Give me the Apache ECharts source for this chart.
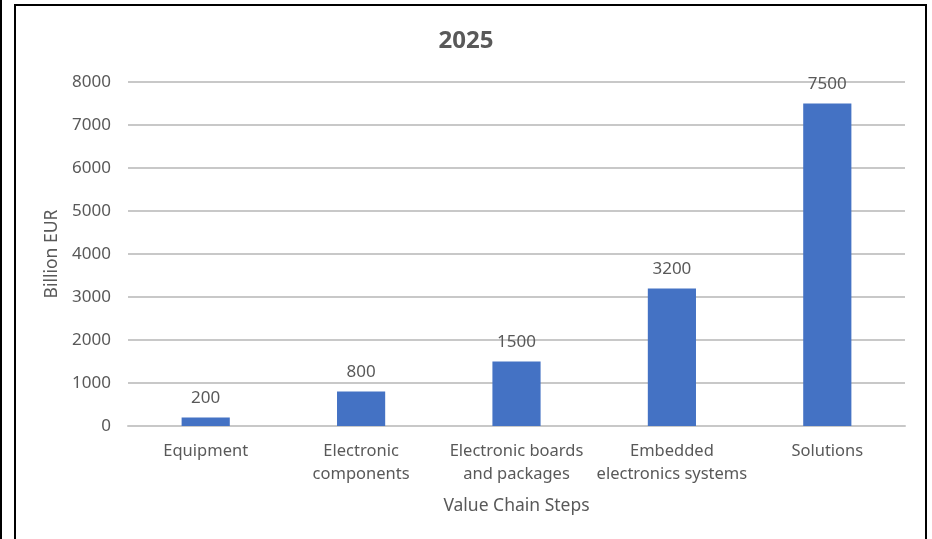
<!DOCTYPE html>
<html>
<head>
<meta charset="utf-8">
<script src="https://cdn.jsdelivr.net/npm/echarts@6/dist/echarts.min.js"></script>
<style>
html,body{margin:0;padding:0;background:#fff;}
#main{width:932px;height:539px;}
</style>
</head>
<body>
<div id="main"></div>
<script>
const categories = ['Equipment', 'Electronic\ncomponents', 'Electronic boards\nand packages', 'Embedded\nelectronics systems', 'Solutions'];
const values = [200, 800, 1500, 3200, 7500];
const yTicks = [0, 1000, 2000, 3000, 4000, 5000, 6000, 7000, 8000];
const titleText = '2025';
const yName = 'Billion EUR';
const xName = 'Value Chain Steps';

const FONT = '"Noto Sans", "Liberation Sans", sans-serif';
const TXT = '#595959';
const chart = echarts.init(document.getElementById('main'), null, {renderer: 'canvas'});
chart.setOption({
  animation: false,
  backgroundColor: '#fff',
  title: {
    text: titleText, left: 'center', top: 24,
    textStyle: {fontFamily: FONT, fontSize: 24, fontWeight: 'bold', color: TXT}
  },
  grid: {left: 128, right: 27, top: 82, bottom: 113},
  xAxis: {
    type: 'category', data: categories,
    name: xName, nameLocation: 'middle', nameGap: 71,
    nameTextStyle: {fontFamily: FONT, fontSize: 17.5, color: TXT},
    axisLine: {show: true, lineStyle: {color: '#c8c8c8', width: 2}},
    axisTick: {show: false},
    axisLabel: {fontFamily: FONT, fontSize: 16.5, color: TXT, margin: 14, lineHeight: 23, interval: 0}
  },
  yAxis: {
    type: 'value', min: yTicks[0], max: yTicks[yTicks.length - 1], interval: 1000,
    name: yName, nameLocation: 'middle', nameGap: 55, nameRotate: 90,
    nameTextStyle: {fontFamily: FONT, fontSize: 17.5, color: TXT},
    axisLine: {show: false}, axisTick: {show: false},
    axisLabel: {fontFamily: FONT, fontSize: 17, color: TXT, margin: 17, formatter: v => String(v)},
    splitLine: {lineStyle: {color: '#c8c8c8', width: 2}}
  },
  series: [{
    type: 'bar', data: values, barWidth: '31%',
    itemStyle: {color: '#4472C4'},
    label: {show: true, position: 'top', distance: 11, fontFamily: FONT, fontSize: 17, color: TXT}
  }],
  graphic: [
    {type: 'rect', shape: {x: 0, y: 0, width: 2, height: 539}, style: {fill: '#000'}, z: 100},
    {type: 'rect', shape: {x: 15, y: 5, width: 911, height: 560}, style: {fill: 'none', stroke: '#000', lineWidth: 2}, z: 100}
  ]
});
</script>
</body>
</html>
